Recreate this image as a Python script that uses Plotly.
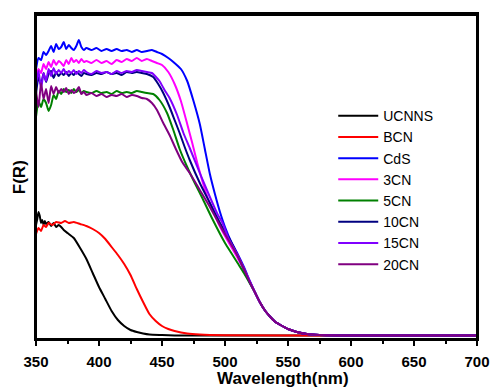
import plotly.graph_objects as go

# ---------------- data ----------------
series_names = ["UCNNS", "BCN", "CdS", "3CN", "5CN", "10CN", "15CN", "20CN"]
series_colors = ["#000000", "#ff0000", "#0000ff", "#ff00ff", "#008000", "#000080", "#8000ff", "#800080"]

wl_ucnns = [350, 351, 352, 353, 354, 355, 356, 357, 358, 360, 362, 364, 366, 368, 370, 372, 375, 380, 385,
            390, 395, 400, 405, 410, 415, 420, 425, 430, 435, 440, 450, 460, 500, 600, 700]
f_ucnns = [114, 120, 127, 123, 116, 119, 114, 118, 115, 117, 113, 116, 112, 114, 112, 109, 106, 101, 91,
           80, 66, 52, 40, 28, 19, 13, 9, 7, 5.5, 4.5, 4, 3.6, 3.5, 3.5, 3.5]

wl_bcn = [350, 352, 354, 356, 358, 360, 363, 366, 370, 373, 376, 380, 385, 390, 395, 400, 405, 410, 415,
          420, 425, 430, 435, 440, 445, 450, 455, 460, 470, 480, 500, 600, 700]
f_bcn = [105, 111, 108, 114, 112, 116, 114, 117, 116, 118, 116, 117, 115, 113, 110, 106, 100, 92, 84,
         75, 64, 50, 37, 25, 18, 13, 10, 8, 5.5, 4.5, 3.8, 3.5, 3.5]

wl_cds = [350, 352, 354, 356, 358, 360, 362, 364, 366, 368, 370, 372, 374, 376, 378, 380, 382, 384, 386, 388, 390,
          394, 398, 402, 406, 410, 414, 418, 422, 426, 430, 434, 438, 442, 446, 450, 455, 459, 465, 470, 475,
          480, 484, 488, 492, 496, 500, 505, 510, 515, 520]
f_cds = [270, 281, 279, 287, 284, 288, 293, 287, 295, 290, 292, 297, 290, 294, 291, 289, 293, 299, 292, 289, 291,
         289, 291, 288, 290, 288, 290, 288, 289, 287, 289, 287, 288, 289, 287, 285, 281, 277, 270, 258, 238,
         215, 190, 165, 145, 127, 112, 97, 85, 72, 57]

wl_3cn = [350, 352, 354, 356, 358, 360, 362, 364, 366, 368, 370, 372, 374, 376, 378, 380, 382, 384, 386, 388, 390,
          394, 398, 402, 406, 410, 414, 418, 422, 426, 430, 434, 438, 442, 446, 450, 455, 460, 465, 470, 474,
          478, 482, 486, 490, 495, 500, 505, 510, 515, 520]
f_3cn = [262, 270, 266, 275, 270, 277, 272, 279, 274, 278, 276, 273, 279, 275, 281, 277, 279, 276, 280, 277, 278,
         276, 279, 276, 278, 275, 279, 277, 280, 278, 281, 278, 280, 278, 276, 274, 267, 255, 238, 215, 196,
         176, 158, 142, 130, 115, 103, 92, 81, 69, 56]

wl_5cn = [350, 352, 354, 356, 358, 360, 362, 364, 366, 368, 370, 372, 374, 376, 378, 380, 382, 384, 386, 388, 390,
          394, 398, 402, 406, 410, 414, 418, 422, 426, 430, 434, 438, 443, 448, 454, 459, 464, 470, 476,
          482, 490, 500, 505, 510, 515, 520]
f_5cn = [222, 238, 232, 240, 236, 228, 234, 244, 240, 248, 245, 250, 247, 249, 246, 250, 247, 249, 246, 248, 247,
         246, 248, 246, 247, 245, 248, 246, 247, 246, 248, 247, 246, 245, 239, 226, 209, 190, 172, 156,
         141, 120, 96, 86, 76, 66, 55]

wl_10cn = [350, 352, 354, 356, 358, 360, 362, 364, 366, 368, 370, 372, 374, 376, 378, 380, 382, 384, 386, 388, 390,
           394, 398, 402, 406, 410, 414, 418, 422, 426, 430, 434, 438, 443, 447, 451, 456, 460, 464, 468, 472,
           480, 488, 496, 504, 510, 515, 520]
f_10cn = [245, 262, 254, 266, 257, 265, 268, 261, 267, 263, 266, 264, 267, 263, 266, 264, 267, 265, 263, 266, 265,
          264, 266, 265, 267, 265, 266, 264, 267, 266, 267, 266, 265, 262, 255, 246, 232, 219, 206, 192, 179,
          156, 136, 116, 99, 84, 70, 56]

wl_15cn = [350, 352, 354, 356, 358, 360, 362, 364, 366, 368, 370, 372, 374, 376, 378, 380, 382, 384, 386, 388, 390,
           394, 398, 402, 406, 410, 414, 418, 422, 426, 430, 434, 438, 442, 448, 452, 456, 462, 467, 472,
           480, 488, 494, 498, 503, 510, 515, 520]
f_15cn = [255, 268, 250, 266, 258, 270, 263, 271, 265, 269, 266, 270, 265, 268, 266, 269, 265, 268, 266, 269, 267,
          265, 268, 266, 267, 265, 268, 266, 268, 267, 269, 268, 267, 266, 258, 249, 241, 224, 206, 191,
          166, 142, 125, 116, 100, 84, 71, 57]

wl_20cn = [350, 352, 354, 356, 358, 360, 362, 364, 366, 368, 370, 372, 374, 376, 378, 380, 382, 384, 386, 388, 390,
           394, 398, 402, 406, 410, 414, 418, 422, 426, 430, 434, 438, 442, 446, 451, 456, 461, 466, 472,
           480, 488, 498, 506, 510, 515, 520]
f_20cn = [248, 232, 256, 240, 250, 236, 253, 245, 252, 246, 250, 247, 251, 245, 249, 246, 248, 252, 245, 247, 244,
          246, 243, 245, 242, 244, 243, 245, 242, 244, 243, 241, 240, 236, 229, 216, 204, 190, 177, 166,
          149, 132, 109, 92, 83, 70, 56]

# common absorption tail shared by the CdS-containing samples
wl_tail = [524, 528, 532, 536, 540, 544, 550, 557, 565, 575, 590, 620, 700]
f_tail = [46, 36, 28, 22, 17, 14, 10, 7, 5, 4, 3.6, 3.5, 3.5]

x_ticks = [350, 400, 450, 500, 550, 600, 650, 700]

# ---------------- figure ----------------
xs = [wl_ucnns, wl_bcn, wl_cds + wl_tail, wl_3cn + wl_tail, wl_5cn + wl_tail,
      wl_10cn + wl_tail, wl_15cn + wl_tail, wl_20cn + wl_tail]
ys = [f_ucnns, f_bcn, f_cds + f_tail, f_3cn + f_tail, f_5cn + f_tail,
      f_10cn + f_tail, f_15cn + f_tail, f_20cn + f_tail]

fig = go.Figure()
for name, color, x, y in zip(series_names, series_colors, xs, ys):
    fig.add_trace(go.Scatter(x=x, y=y, mode="lines", name=name,
                             line=dict(color=color, width=2, shape="spline", smoothing=0.5)))

font_family = "Arial, Liberation Sans, sans-serif"

fig.update_layout(
    width=492, height=387,
    margin=dict(l=36, r=15, t=14, b=48, autoexpand=False),
    paper_bgcolor="white", plot_bgcolor="white",
    font=dict(family=font_family, color="black"),
    showlegend=True,
    legend=dict(x=0.674, y=0.735, xanchor="left", yanchor="top",
                bgcolor="rgba(0,0,0,0)", borderwidth=0, itemwidth=40,
                font=dict(family=font_family, size=14, color="black"),
                tracegroupgap=0),
)
fig.update_xaxes(range=[350, 700], tickvals=x_ticks, ticks="outside", ticklen=5, tickwidth=2,
                 tickcolor="black", showline=True, linecolor="black", linewidth=2, mirror=True,
                 showgrid=False, zeroline=False, ticklabelstandoff=3,
                 tickfont=dict(family=font_family, size=15, color="black", weight="bold"),
                 minor=dict(dtick=25, tick0=350, ticks="outside", ticklen=3, tickwidth=2, tickcolor="black"))
fig.update_yaxes(range=[0, 325], showticklabels=False, ticks="", showline=True, linecolor="black",
                 linewidth=2, mirror=True, showgrid=False, zeroline=False)

# plot frame
fig.add_shape(type="rect", xref="paper", yref="paper", x0=0, y0=0, x1=1, y1=0.997,
              line=dict(color="black", width=2), fillcolor="rgba(0,0,0,0)", layer="above")

fig.add_annotation(text="Wavelength(nm)", xref="paper", yref="paper", x=0.56, y=-0.12,
                   xanchor="center", yanchor="middle", showarrow=False,
                   font=dict(family=font_family, size=17, color="black", weight="bold"))
fig.add_annotation(text="F(R)", xref="paper", yref="paper", x=-0.0385, y=0.498,
                   xanchor="center", yanchor="middle", showarrow=False, textangle=-90,
                   font=dict(family=font_family, size=17, color="black", weight="bold"))

fig.write_html("out.html", config={"displayModeBar": False},
               post_script="document.body.style.margin='0';document.body.style.padding='0';")
